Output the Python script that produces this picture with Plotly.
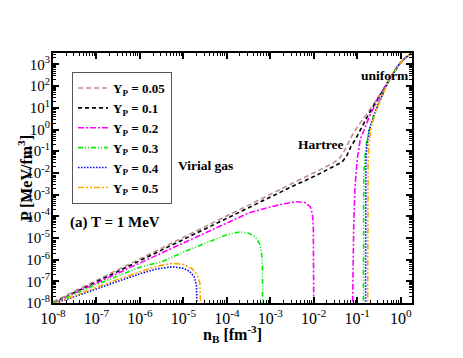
import plotly.graph_objects as go

# log10 values: n_B [fm^-3] and P [MeV/fm^3]; None splits branches
yp_labels = ["0.05", "0.1", "0.2", "0.3", "0.4", "0.5"]

logn_005 = [-8, -7, -6, -5, -4, -3, -2.3, -1.8, -1.55, -1.4, -1.3, -1.2, -1.1, -0.95, -0.8, -0.6, -0.4, -0.2, 0.0, 0.27]
logp_005 = [-7.95, -6.96, -5.96, -4.97, -3.97, -2.98, -2.3, -1.82, -1.55, -1.3, -1.0, -0.6, -0.2, 0.25, 0.65, 1.25, 1.85, 2.5, 3.1, 3.55]

logn_01 = [-8, -7, -6, -5, -4, -3, -2.5, -2.0, -1.6, -1.35, -1.25, -1.15, -1.04, -0.88, -0.74, -0.53, -0.3, -0.07, 0.1, 0.27]
logp_01 = [-8.0, -7.02, -6.04, -5.06, -4.08, -3.1, -2.63, -2.17, -1.78, -1.5, -1.25, -0.8, -0.45, 0.15, 0.7, 1.4, 2.19, 2.93, 3.3, 3.55]

logn_02 = [-8, -7, -6, -5, -4, -3.5, -3.0, -2.7, -2.4, -2.2, -2.08, -2.03, -2.01, -2.0, None,
           -1.11, -1.10, -1.08, -1.05, -1.0, -0.93, -0.81, -0.7, -0.51, -0.3, -0.07, 0.1, 0.27]
logp_02 = [-8.0, -7.08, -6.15, -5.22, -4.33, -3.85, -3.57, -3.43, -3.33, -3.37, -3.56, -3.9, -4.5, -8.5, None,
           -8.5, -6.0, -4.3, -2.6, -1.38, -0.45, 0.15, 0.7, 1.4, 2.19, 2.93, 3.3, 3.55]

logn_03 = [-8, -7, -6, -5.5, -5, -4.4, -4.0, -3.7, -3.5, -3.35, -3.25, -3.2, -3.18, -3.18, None,
           -0.86, -0.86, -0.85, -0.83, -0.8, -0.74, -0.63, -0.47, -0.3, -0.07, 0.1, 0.27]
logp_03 = [-8.0, -7.15, -6.35, -6.1, -5.65, -5.18, -4.85, -4.72, -4.78, -4.95, -5.25, -5.7, -6.4, -8.5, None,
           -8.5, -4.0, -2.3, -1.4, -0.78, -0.13, 0.61, 1.40, 2.17, 2.92, 3.3, 3.55]

logn_04 = [-8, -7.5, -7, -6.5, -6, -5.6, -5.25, -5.0, -4.85, -4.75, -4.7, -4.68, None,
           -0.81, -0.81, -0.80, -0.78, -0.72, -0.6, -0.45, -0.3, -0.07, 0.1, 0.27]
logp_04 = [-8.05, -7.7, -7.35, -7.0, -6.65, -6.42, -6.33, -6.4, -6.55, -6.8, -7.2, -8.5, None,
           -8.5, -3.0, -1.6, -0.75, 0.0, 0.75, 1.45, 2.15, 2.92, 3.3, 3.55]

logn_05 = [-8, -7.5, -7, -6.5, -6, -5.6, -5.25, -5.0, -4.8, -4.68, -4.62, -4.6, None,
           -0.76, -0.76, -0.75, -0.73, -0.68, -0.58, -0.45, -0.3, -0.07, 0.1, 0.27]
logp_05 = [-8.05, -7.65, -7.28, -6.9, -6.55, -6.3, -6.17, -6.22, -6.42, -6.7, -7.1, -8.5, None,
           -8.5, -3.0, -1.6, -0.65, 0.1, 0.8, 1.45, 2.15, 2.92, 3.3, 3.55]

x_decades = list(range(-8, 1))
y_decades = list(range(-8, 4))

series = [
    (logn_005, logp_005, "#BC8F8F", "5px,3px"),
    (logn_01, logp_01, "black", "4px,3px"),
    (logn_02, logp_02, "#FF00FF", "6px,2px,2px,2px"),
    (logn_03, logp_03, "#00EE00", "5px,2px,1px,2px,1px,2px"),
    (logn_04, logp_04, "#0000FF", "1.5px,1.5px"),
    (logn_05, logp_05, "#FFA500", "6px,2px,2px,2px,2px,2px"),
]


def unlog(vals):
    return [None if v is None else 10 ** v for v in vals]


serif = "Liberation Serif"
fig = go.Figure()
for label, (ln, lp, color, dash) in zip(yp_labels, series):
    fig.add_trace(go.Scatter(
        x=unlog(ln), y=unlog(lp), mode="lines",
        name="<b>Y<sub>P</sub> = %s</b>" % label,
        line=dict(color=color, width=1.6, dash=dash),
    ))


def minor_vals(decades):
    return [m * 10.0 ** k for k in decades for m in range(2, 10)]


axis_common = dict(
    type="log", showline=True, linecolor="black", linewidth=2, mirror="ticks",
    ticks="inside", ticklen=6, tickwidth=1.5, tickcolor="black",
    showgrid=False, zeroline=False, automargin=False,
)

fig.update_xaxes(
    **axis_common, range=[-8, 0.26],
    tickfont=dict(family=serif, size=16, color="black"),
    tickvals=[10.0 ** k for k in x_decades],
    ticktext=["10<sup>%d</sup>" % k for k in x_decades],
    minor=dict(ticks="inside", ticklen=3, tickwidth=1, tickcolor="black",
               tickvals=minor_vals(x_decades)),
)
fig.update_yaxes(
    **axis_common, range=[-8, 3.53], ticklabelstandoff=-2,
    tickfont=dict(family=serif, size=15, color="black"),
    tickvals=[10.0 ** k for k in y_decades],
    ticktext=["10<sup>%d</sup>" % k for k in y_decades],
    minor=dict(ticks="inside", ticklen=3, tickwidth=1, tickcolor="black",
               tickvals=minor_vals(y_decades)),
)

# axis titles
fig.add_annotation(x=0.5, y=0, xref="paper", yref="paper", yshift=-31, yanchor="middle",
                   text="<b>n<sub>B</sub> [fm<sup>-3</sup>]</b>", showarrow=False,
                   font=dict(family=serif, size=16, color="black"))
fig.add_annotation(x=0, y=0.5, xref="paper", yref="paper", xshift=-40, textangle=-90,
                   text="<b>P [MeV/fm<sup>3</sup>]</b>", showarrow=False,
                   font=dict(family=serif, size=16, color="black"))

notes = [
    ("uniform", -0.35, 2.51, 13.5),
    ("Hartree", -1.85, -0.69, 13.5),
    ("Virial gas", -4.5, -1.66, 13.5),
    ("(a) T = 1 MeV", -6.57, -4.3, 15),
]
for text, lx, ly, size in notes:
    fig.add_annotation(x=lx, y=ly, xref="x", yref="y", text="<b>%s</b>" % text,
                       showarrow=False, font=dict(family=serif, size=size, color="black"))

# the page body adds 8px on the left and top, so the margins allow for it
fig.update_layout(
    width=463, height=358,
    margin=dict(l=45, r=59, t=45, b=63),
    paper_bgcolor="white", plot_bgcolor="white",
    legend=dict(x=0.053, y=0.924, xanchor="left", yanchor="top",
                bordercolor="#555555", borderwidth=1, bgcolor="white",
                font=dict(family=serif, size=13, color="black"),
                tracegroupgap=0, itemwidth=30),
)

fig.write_html("out.html")
